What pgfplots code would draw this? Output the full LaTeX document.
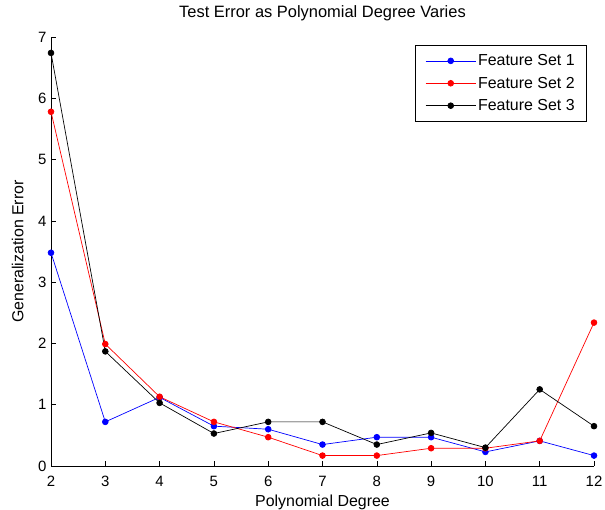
\documentclass[border=0pt]{standalone}
\usepackage{fontspec}
\setmainfont{Liberation Sans}
\usepackage{pgfplots}
\pgfplotsset{compat=1.18}
\begin{document}
\begin{tikzpicture}
\begin{axis}[
  at={(0,0)}, anchor=south west,
  scale only axis, width=543bp, height=429bp,
  xmin=2, xmax=12, ymin=0, ymax=7,
  axis lines=left, axis line style={-, line width=0.7pt},
  tick align=inside, major tick length=5bp,
  tick style={line width=0.6pt, black},
  xtick={2,3,4,5,6,7,8,9,10,11,12}, ytick={0,1,2,3,4,5,6,7},
  scaled y ticks=false,
  /pgf/number format/assume math mode=true,
  tick label style={font=\fontsize{15}{15}\selectfont},
  xticklabel style={anchor=base, yshift=-20.7bp},
  yticklabel style={anchor=east, xshift=-1bp},
  title={Test Error as Polynomial Degree Varies},
  title style={font=\fontsize{16.5}{16.5}\selectfont, at={(0.5,1)}, anchor=base, yshift=13.7bp},
  xlabel={Polynomial Degree},
  xlabel style={font=\fontsize{16}{16}\selectfont, at={(0.5,0)}, anchor=base, yshift=-40.5bp},
  ylabel={Generalization Error},
  ylabel style={font=\fontsize{16}{16}\selectfont, at={(0,0.5)}, anchor=base, yshift=27.7bp},
  legend style={at={(1,1)}, anchor=north east, xshift=-7bp, yshift=-8bp,
    font=\fontsize{16}{16}\selectfont, draw=black, line width=0.7pt,
    row sep=5.8bp, inner xsep=10bp, inner ysep=7.2bp},
  legend cell align=left,
  legend image code/.code={\draw[mark repeat=2, mark phase=2] plot coordinates {(0bp,0bp) (25bp,0bp) (50bp,0bp)};},
  every axis plot/.append style={line width=0.7pt, mark=*, mark size=2.9bp},
]
\addplot[blue, mark options={fill=blue, draw=blue}] coordinates {
(2,3.48) (3,0.72) (4,1.12) (5,0.65) (6,0.60) (7,0.35) (8,0.47) (9,0.47) (10,0.23) (11,0.41) (12,0.17)};
\addlegendentry{Feature Set 1}
\addplot[red, mark options={fill=red, draw=red}] coordinates {
(2,5.78) (3,1.99) (4,1.13) (5,0.72) (6,0.47) (7,0.17) (8,0.17) (9,0.29) (10,0.29) (11,0.41) (12,2.34)};
\addlegendentry{Feature Set 2}
\addplot[black, mark options={fill=black, draw=black}] coordinates {
(2,6.74) (3,1.87) (4,1.03) (5,0.53) (6,0.72) (7,0.72) (8,0.35) (9,0.54) (10,0.30) (11,1.25) (12,0.65)};
\addlegendentry{Feature Set 3}
\node[anchor=base west, font=\fontsize{15}{15}\selectfont, inner sep=0pt] at (rel axis cs:0,1) [yshift=8bp] {x 10\raisebox{6bp}{\fontsize{11}{11}\selectfont -3}};
\end{axis}
\pgfresetboundingbox
\path (-51bp,-44bp) rectangle (554bp,466bp);
\end{tikzpicture}
\end{document}
